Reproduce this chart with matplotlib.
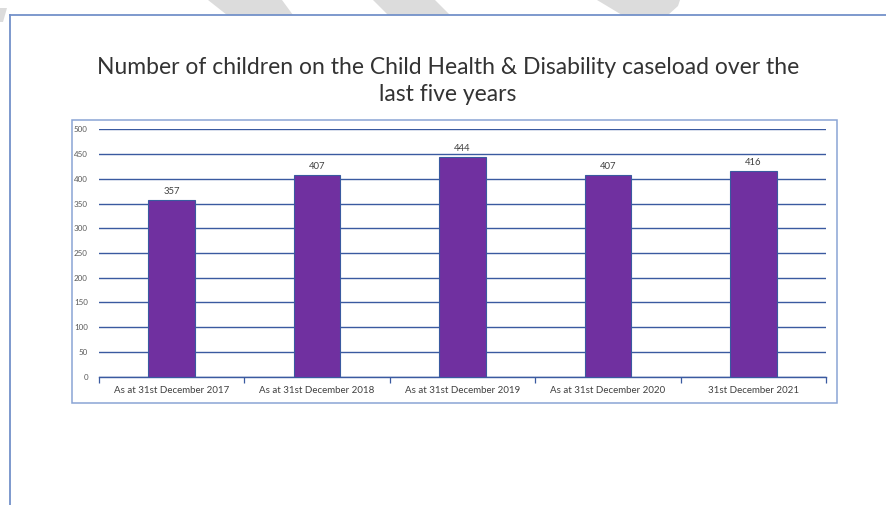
import matplotlib
matplotlib.use("Agg")
import matplotlib.pyplot as plt
from matplotlib.patches import Polygon, Rectangle
from matplotlib.lines import Line2D
import numpy as np

categories = [
    "As at 31st December 2017",
    "As at 31st December 2018",
    "As at 31st December 2019",
    "As at 31st December 2020",
    "31st December 2021",
]
caseload = [357, 407, 444, 407, 416]
y_ticks = [0, 50, 100, 150, 200, 250, 300, 350, 400, 450, 500]
title_lines = [
    "Number of children on the Child Health & Disability caseload over the",
    "last five years",
]

W, H = 887, 505
fig = plt.figure(figsize=(W / 100, H / 100), dpi=100)
fig.patch.set_facecolor("white")


def fx(x):
    return x / W


def fy(y):
    return 1 - y / H


# light grey diagonal page decoration along the top edge
grey = "#dcdcdc"
shapes = [
    [(0, 8), (7, 8), (3, 22), (0, 22)],
    [(208, 0), (282, 0), (293, 15), (227, 15)],
    [(373, 0), (435, 0), (450, 15), (388, 15)],
    [(597, 0), (680, 0), (678, 6), (668, 15), (622, 15)],
]
for pts in shapes:
    fig.add_artist(Polygon([(fx(a), fy(b)) for a, b in pts], closed=True,
                           facecolor=grey, edgecolor="none",
                           transform=fig.transFigure, zorder=0))

# page frame lines
frame_c = "#7391c9"
fig.add_artist(Line2D([fx(10), fx(887)], [fy(15), fy(15)], color=frame_c,
                      lw=1.3, transform=fig.transFigure))
fig.add_artist(Line2D([fx(10), fx(10)], [fy(15), fy(505)], color=frame_c,
                      lw=1.3, transform=fig.transFigure))

# chart border
fig.add_artist(Rectangle((fx(72), fy(403)), (837 - 72) / W, (403 - 120) / H,
                         facecolor="none", edgecolor="#8aa4d4", lw=1.1,
                         transform=fig.transFigure))

font = "Lato"
for line, base in zip(title_lines, [74, 101]):
    fig.text(fx(448), fy(base), line, ha="center", va="baseline",
             fontsize=16.5, family=font, color="#333333")

ax = fig.add_axes([fx(99), fy(376.7), (826 - 99) / W, (376.7 - 129.3) / H])
ax.set_facecolor("none")
x = np.arange(len(categories))
bars = ax.bar(x, caseload, width=0.32, color="#7030A0", edgecolor="#3a5aa0",
              linewidth=0.8, zorder=3)
for xi, v in zip(x, caseload):
    ax.text(xi, v + 8, str(v), ha="center", va="bottom", fontsize=6.8,
            family=font, color="#404040")

ax.set_ylim(0, 500)
ax.set_xlim(-0.5, len(categories) - 0.5)
ax.set_yticks(y_ticks)
ax.set_yticklabels([str(t) for t in y_ticks], family=font, fontsize=5.8,
                   color="#595959")
ax.yaxis.grid(True, color="#3a5aa0", lw=1.0)
ax.set_axisbelow(True)
ax.tick_params(axis="y", length=0, pad=8)

ax.set_xticks(x)
ax.set_xticklabels(categories, family=font, fontsize=7.0, color="#404040")
ax.set_xticks(np.arange(-0.5, len(categories)), minor=True)
ax.tick_params(axis="x", which="major", length=0, pad=7)
ax.tick_params(axis="x", which="minor", length=4, width=0.9, color="#3a5aa0")

for side in ["left", "right", "top"]:
    ax.spines[side].set_visible(False)
ax.spines["bottom"].set_color("#3a5aa0")
ax.spines["bottom"].set_linewidth(1.0)

fig.savefig("out.png", dpi=100, facecolor="white")
